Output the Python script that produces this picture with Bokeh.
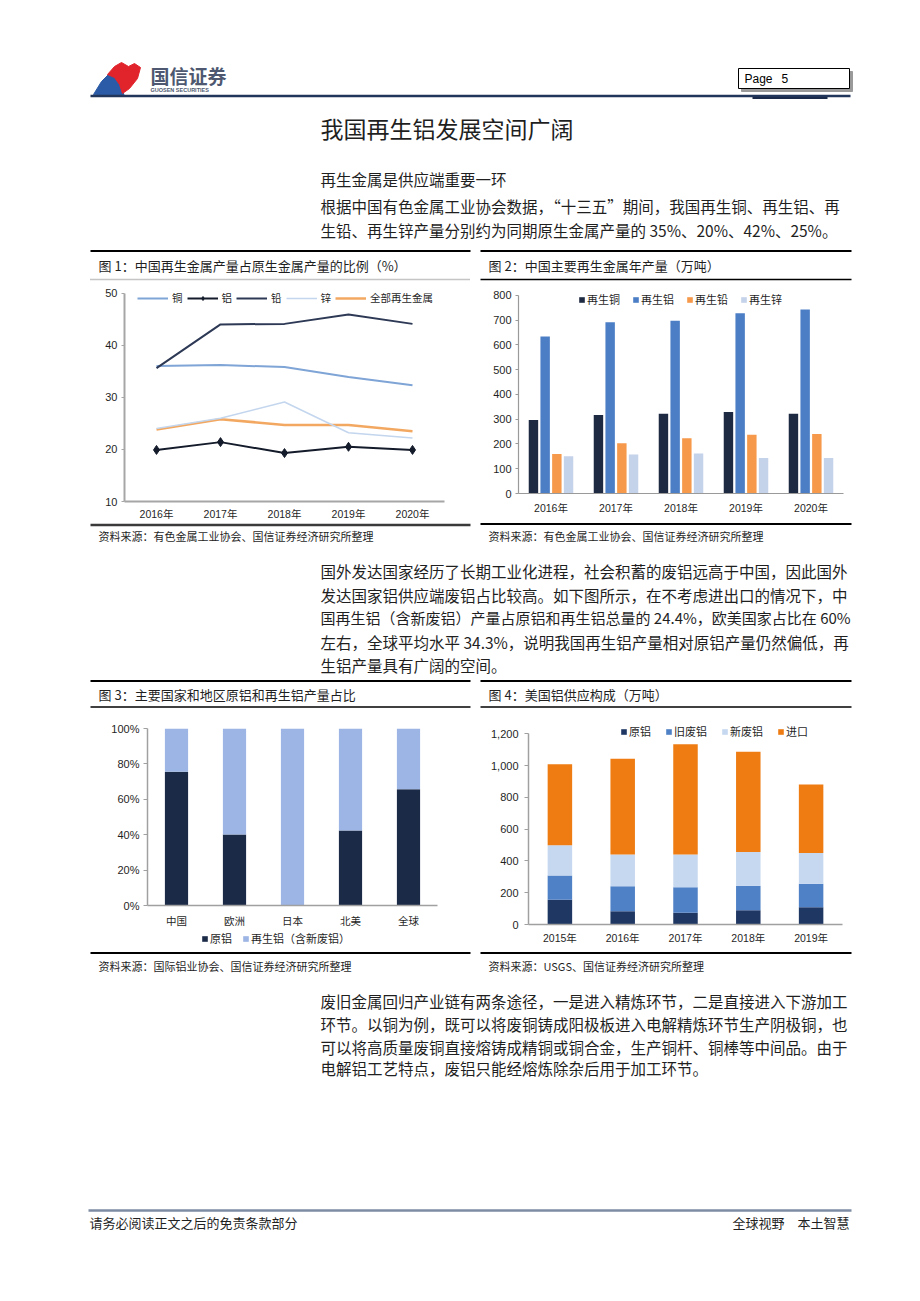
from bokeh.plotting import figure
from bokeh.models import (Range1d, FactorRange, Legend, LegendItem, ColumnDataSource,
                          NumeralTickFormatter, FixedTicker, Spacer)
from bokeh.layouts import column, row
from bokeh.core.properties import value
from bokeh.transform import dodge
from bokeh.embed import file_html
from bokeh.resources import INLINE

CJK = "Noto Sans CJK SC"
NUM = "Liberation Sans, Noto Sans CJK SC"
INK = "#1f1f1f"

# ---------------- data ----------------
years_a = ["2016年", "2017年", "2018年", "2019年", "2020年"]
ratio_cu = [36.0, 36.2, 35.8, 33.9, 32.3]
ratio_al = [19.9, 21.4, 19.3, 20.5, 19.9]
ratio_pb = [35.6, 44.0, 44.1, 45.9, 44.1]
ratio_zn = [24.0, 26.0, 29.1, 23.2, 22.2]
ratio_all = [23.8, 25.8, 24.7, 24.7, 23.5]
ratio_labels = ["铜", "铝", "铅", "锌", "全部再生金属"]

prod_cu = [297, 317, 322, 329, 322]
prod_al = [634, 692, 698, 728, 743]
prod_pb = [160, 203, 223, 237, 240]
prod_zn = [150, 158, 162, 143, 143]
prod_labels = ["再生铜", "再生铝", "再生铅", "再生锌"]

regions = ["中国", "欧洲", "日本", "北美", "全球"]
share_primary = [0.756, 0.401, 0.0, 0.424, 0.657]
share_recycled = [round(1 - v, 3) for v in share_primary]
share_labels = ["原铝", "再生铝（含新废铝）"]

years_b = ["2015年", "2016年", "2017年", "2018年", "2019年"]
us_primary = [156, 84, 74, 89, 109]
us_old = [153, 156, 161, 155, 148]
us_new = [189, 200, 205, 212, 193]
us_import = [511, 603, 694, 631, 431]
us_labels = ["原铝", "旧废铝", "新废铝", "进口"]

title_main = "我国再生铝发展空间广阔"
subtitle = "再生金属是供应端重要一环"
para1 = ["根据中国有色金属工业协会数据，“十三五”期间，我国再生铜、再生铝、再",
         "生铅、再生锌产量分别约为同期原生金属产量的 35%、20%、42%、25%。"]
para2 = ["国外发达国家经历了长期工业化进程，社会积蓄的废铝远高于中国，因此国外",
         "发达国家铝供应端废铝占比较高。如下图所示，在不考虑进出口的情况下，中",
         "国再生铝（含新废铝）产量占原铝和再生铝总量的 24.4%，欧美国家占比在 60%",
         "左右，全球平均水平 34.3%，说明我国再生铝产量相对原铝产量仍然偏低，再",
         "生铝产量具有广阔的空间。"]
para3 = ["废旧金属回归产业链有两条途径，一是进入精炼环节，二是直接进入下游加工",
         "环节。以铜为例，既可以将废铜铸成阳极板进入电解精炼环节生产阴极铜，也",
         "可以将高质量废铜直接熔铸成精铜或铜合金，生产铜杆、铜棒等中间品。由于",
         "电解铝工艺特点，废铝只能经熔炼除杂后用于加工环节。"]
fig_titles = ["图 1：中国再生金属产量占原生金属产量的比例（%）",
              "图 2：中国主要再生金属年产量（万吨）",
              "图 3：主要国家和地区原铝和再生铝产量占比",
              "图 4：美国铝供应构成（万吨）"]
sources = ["资料来源：有色金属工业协会、国信证券经济研究所整理",
           "资料来源：有色金属工业协会、国信证券经济研究所整理",
           "资料来源：国际铝业协会、国信证券经济研究所整理",
           "资料来源：USGS、国信证券经济研究所整理"]
footer_left = "请务必阅读正文之后的免责条款部分"
footer_right = "全球视野　本土智慧"

PAGE_W = 912


# ---------------- helpers ----------------
def page_fig(y0, y1):
    p = figure(width=PAGE_W, height=y1 - y0, x_range=Range1d(0, PAGE_W), y_range=Range1d(y1, y0),
               x_axis_location=None, y_axis_location=None, output_backend="svg",
               toolbar_location=None, min_border=0)
    p.grid.visible = False
    p.outline_line_color = None
    p.background_fill_color = "white"
    p.border_fill_color = "white"
    p.frame_align = False
    return p


def put_text(p, xs, ys, texts, size, font=CJK, color=INK, align="left", style="normal"):
    p.text(x=xs, y=ys, text=texts, text_font=value(font), text_font_size=size,
           text_color=color, text_align=align, text_baseline="middle", text_font_style=style)


def chart_fig(w, h, xr, yr, l, r, t, b):
    p = figure(width=w, height=h, x_range=xr, y_range=yr, output_backend="svg",
               toolbar_location=None, min_border_left=l, min_border_right=r,
               min_border_top=t, min_border_bottom=b)
    p.grid.visible = False
    p.outline_line_color = None
    p.background_fill_color = "white"
    p.border_fill_color = "white"
    p.frame_align = False
    return p


def style_axes(p, color, xw, yw, ytick_out, ystand, xstand, xfont, xfs="10.5px", yfs="11px"):
    p.xaxis.axis_line_color = color
    p.xaxis.axis_line_width = xw
    p.xaxis.major_tick_line_color = None
    p.xaxis.major_tick_out = 0
    p.xaxis.major_tick_in = 0
    p.xaxis.minor_tick_line_color = None
    p.xaxis.minor_tick_out = 0
    p.xaxis.major_label_standoff = xstand
    p.xaxis.major_label_text_font = xfont
    p.xaxis.major_label_text_font_size = xfs
    p.xaxis.major_label_text_color = INK
    p.yaxis.axis_line_color = color
    p.yaxis.axis_line_width = yw
    p.yaxis.major_tick_line_color = color
    p.yaxis.major_tick_out = ytick_out
    p.yaxis.major_tick_in = 0
    p.yaxis.minor_tick_line_color = None
    p.yaxis.minor_tick_out = 0
    p.yaxis.major_label_standoff = ystand
    p.yaxis.major_label_text_font = NUM
    p.yaxis.major_label_text_font_size = yfs
    p.yaxis.major_label_text_color = INK


def make_legend(items, loc, gw, gh, standoff, spacing, fs="10.5px"):
    return Legend(items=items, orientation="horizontal", location=loc, padding=0, margin=0,
                  spacing=spacing, glyph_width=gw, glyph_height=gh, label_standoff=standoff,
                  label_text_font=CJK, label_text_font_size=fs, label_text_color=INK,
                  label_height=12, label_width=4, background_fill_alpha=0, border_line_color=None)


# ---------------- band T (page y 0-282) ----------------
pt = page_fig(0, 282)
pt.patch([93, 101, 110, 116, 120, 124, 108], [94, 81, 72, 75, 84, 96, 96], color="#2B5BA6")
pt.patch([107, 114, 121, 128, 134, 140, 137, 129, 122, 119, 114],
         [74, 66, 62, 66, 63, 67, 78, 88, 93, 84, 77], color="#E1242C")
put_text(pt, [150], [75], ["国信证券"], "19px", color="#4E5870", style="bold")
put_text(pt, [150], [89], ["GUOSEN SECURITIES"], "5.5px", font=NUM, color="#4E5870", style="bold")
pt.quad(left=[741], right=[852], top=[71], bottom=[91], color="#9a9a9a")
pt.quad(left=[738], right=[849], top=[68], bottom=[88], fill_color="white", line_color="black", line_width=1)
put_text(pt, [744, 781], [78, 78], ["Page", "5"], "12px", font=NUM, color="black")
pt.segment(x0=[90], y0=[95.5], x1=[850], y1=[95.5], line_color="#22355A", line_width=2.5)
pt.segment(x0=[752], y0=[97.5], x1=[827], y1=[97.5], line_color="#1A2A4A", line_width=2)
put_text(pt, [320], [127], [title_main], "23px")
put_text(pt, [320], [178], [subtitle], "15.5px")
put_text(pt, [320, 320], [205, 229], para1, "15.5px")
pt.segment(x0=[90, 480], y0=[250.5, 250.5], x1=[470, 851], y1=[250.5, 250.5], line_color="black", line_width=2)
put_text(pt, [98, 488], [265, 265], fig_titles[:2], "13px")
pt.segment(x0=[90], y0=[279], x1=[470], y1=[279], line_color="#8a8a8a", line_width=1.5, line_dash="1 1")
pt.segment(x0=[480], y0=[279], x1=[851], y1=[279], line_color="black", line_width=1.5)

# ---------------- chart 1 (fig y 282-522, frame 289-501) ----------------
p1 = chart_fig(380, 240, FactorRange(factors=years_a), Range1d(10, 50.7), 34, 26, 7, 21)
src1 = ColumnDataSource(dict(year=years_a, cu=ratio_cu, al=ratio_al, pb=ratio_pb, zn=ratio_zn, all=ratio_all))
r_all = p1.line("year", "all", source=src1, line_color="#F3A862", line_width=2.5)
r_zn = p1.line("year", "zn", source=src1, line_color="#C3D6EE", line_width=1.5)
r_cu = p1.line("year", "cu", source=src1, line_color="#7FA4D6", line_width=2)
r_pb = p1.line("year", "pb", source=src1, line_color="#2D3955", line_width=2)
r_al = p1.line("year", "al", source=src1, line_color="#141B2A", line_width=2)
r_alp = p1.scatter("year", "al", source=src1, marker="diamond", size=9, color="#141B2A")
p1.yaxis.ticker = FixedTicker(ticks=[10, 20, 30, 40, 50])
p1.yaxis.bounds = (10, 50)
style_axes(p1, "#A6A6A6", 2, 2, 3, 4, 6, NUM)
lg1 = make_legend([LegendItem(label=ratio_labels[0], renderers=[r_cu]),
                   LegendItem(label=ratio_labels[1], renderers=[r_al, r_alp]),
                   LegendItem(label=ratio_labels[2], renderers=[r_pb]),
                   LegendItem(label=ratio_labels[3], renderers=[r_zn]),
                   LegendItem(label=ratio_labels[4], renderers=[r_all])],
                  (13, 196), 31, 10, 4, 4)
p1.add_layout(lg1)

# ---------------- chart 2 (frame 292-493) ----------------
p2 = chart_fig(371, 240, FactorRange(factors=years_a), Range1d(0, 812), 38, 8, 10, 29)
src2 = ColumnDataSource(dict(year=years_a, cu=prod_cu, al=prod_al, pb=prod_pb, zn=prod_zn))
cols2 = ["#1E2A42", "#4C7EC6", "#F6994A", "#C4D2EA"]
rs2 = []
for key, off, c in zip(["cu", "al", "pb", "zn"], [-0.27, -0.09, 0.09, 0.27], cols2):
    rs2.append(p2.vbar(x=dodge("year", off, range=p2.x_range), top=key, width=0.145,
                       source=src2, fill_color=c, line_color=None))
p2.yaxis.ticker = FixedTicker(ticks=list(range(0, 801, 100)))
p2.yaxis.bounds = (0, 800)
style_axes(p2, "#9a9a9a", 1.2, 1.2, 3, 4, 8, NUM)
lg2 = make_legend([LegendItem(label=l, renderers=[r]) for l, r in zip(prod_labels, rs2)],
                  (60, 186), 7, 7, 2, 12, "11px")
p2.add_layout(lg2)

# ---------------- band M (page y 522-712) ----------------
pm = page_fig(522, 712)
pm.segment(x0=[90], y0=[524.5], x1=[470], y1=[524.5], line_color="#3a3a3a", line_width=2.5)
pm.segment(x0=[480], y0=[523.5], x1=[851], y1=[523.5], line_color="black", line_width=2)
put_text(pm, [98, 488], [535, 535], sources[:2], "11px")
pm.text(x=[320] * 5, y=[570, 594, 617, 641, 664], text=para2, text_font=value(CJK),
        text_font_size=["15.5px", "15.5px", "15px", "15.5px", "15.5px"], text_color=INK,
        text_align="left", text_baseline="middle")
pm.segment(x0=[90, 480], y0=[680.5, 680.5], x1=[470, 851], y1=[680.5, 680.5], line_color="black", line_width=2)
put_text(pm, [98, 488], [694, 694], fig_titles[2:], "13px")
pm.segment(x0=[90, 480], y0=[706.5, 706.5], x1=[470, 851], y1=[706.5, 706.5], line_color="black", line_width=1.5)

# ---------------- chart 3 (fig y 712-930, frame 728-905) ----------------
p3 = chart_fig(380, 218, FactorRange(factors=regions), Range1d(0, 1), 57, 33, 16, 25)
src3 = ColumnDataSource(dict(region=regions, primary=share_primary, recycled=share_recycled))
cols3 = ["#1B2A47", "#9CB5E4"]
rs3 = p3.vbar_stack(["primary", "recycled"], x="region", width=0.4, source=src3,
                    fill_color=cols3, line_color=None)
p3.yaxis.ticker = FixedTicker(ticks=[0, 0.2, 0.4, 0.6, 0.8, 1.0])
p3.yaxis.formatter = NumeralTickFormatter(format="0%")
style_axes(p3, "#A0A0A0", 1.5, 1.5, 4, 4, 7, CJK)

# legend strip under chart 3 (y 930-948); its bars lie outside the strip's range
pl3 = figure(width=380, height=18, x_range=FactorRange(factors=regions), y_range=Range1d(2, 3),
             x_axis_location=None, y_axis_location=None, output_backend="svg",
             toolbar_location=None, min_border=0)
pl3.grid.visible = False
pl3.outline_line_color = None
pl3.background_fill_color = "white"
pl3.border_fill_color = "white"
pl3.frame_align = False
rl3 = pl3.vbar_stack(["primary", "recycled"], x="region", width=0.4, source=src3,
                     fill_color=cols3, line_color=None)
lg3 = make_legend([LegendItem(label=l, renderers=[r]) for l, r in zip(share_labels, rl3)],
                  (111, 2), 7, 7, 2, 10, "11px")
pl3.add_layout(lg3)

# ---------------- chart 4 (fig y 712-948, frame 723-924) ----------------
p4 = chart_fig(371, 236, FactorRange(factors=years_b), Range1d(0, 1265), 48, 9, 11, 24)
src4 = ColumnDataSource(dict(year=years_b, primary=us_primary, old=us_old, new=us_new, imp=us_import))
rs4 = p4.vbar_stack(["primary", "old", "new", "imp"], x="year", width=0.39, source=src4,
                    fill_color=["#1F3763", "#4F81C6", "#C6D8F0", "#EE7C12"], line_color=None)
p4.yaxis.ticker = FixedTicker(ticks=list(range(0, 1201, 200)))
p4.yaxis.bounds = (0, 1200)
p4.yaxis.formatter = NumeralTickFormatter(format="0,0")
style_axes(p4, "#A0A0A0", 1.5, 1.5, 4, 6, 7, NUM)
lg4 = make_legend([LegendItem(label=l, renderers=[r]) for l, r in zip(us_labels, rs4)],
                  (92, 185), 7, 7, 2, 14, "11px")
p4.add_layout(lg4)

# ---------------- band B (page y 948-1298) ----------------
pb = page_fig(948, 1298)
pb.segment(x0=[90, 480], y0=[952.5, 952.5], x1=[470, 851], y1=[952.5, 952.5], line_color="black", line_width=2)
put_text(pb, [98, 488], [965, 965], sources[2:], "11px")
put_text(pb, [320] * 4, [1000, 1023, 1046, 1067], para3, "15.5px")
pb.segment(x0=[88], y0=[1210], x1=[851], y1=[1210], line_color="#7D8CA3", line_width=2.5)
put_text(pb, [89], [1222], [footer_left], "13px")
put_text(pb, [849], [1222], [footer_right], "13px", align="right")

# ---------------- layout ----------------
band_c1 = row(Spacer(width=90, height=240), p1, Spacer(width=10, height=240), p2, Spacer(width=61, height=240))
band_c2 = row(Spacer(width=90, height=236), column(p3, pl3), Spacer(width=10, height=236), p4,
              Spacer(width=61, height=236))
page = column(pt, band_c1, pm, band_c2, pb)

open("out.html", "w").write(file_html(page, INLINE, title="再生铝"))
